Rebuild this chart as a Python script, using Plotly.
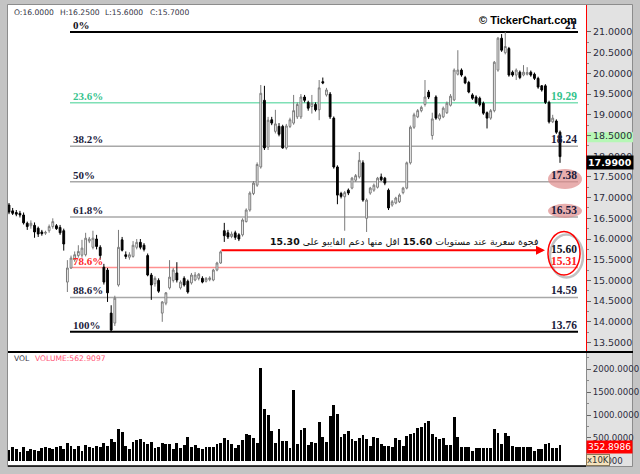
import plotly.graph_objects as go

# ---------------- data ----------------
opens = [16.82, 16.68, 16.64, 16.62, 16.58, 16.38, 16.32, 16.33, 16.26, 16.17,
         16.14, 16.20, 16.30, 16.32, 16.28, 16.20, 14.96, 15.30, 15.50, 15.60,
         15.61, 15.62, 15.95, 15.80, 16.00, 15.80, 15.32, 15.25, 14.21, 13.97,
         14.89, 15.98, 15.62, 15.56, 15.58, 15.80, 15.92, 15.85, 15.60, 15.13,
         14.92, 15.00, 14.21, 14.45, 14.82, 15.00, 15.18, 14.82, 15.05, 14.98,
         14.94, 15.01, 15.05, 15.05, 14.98, 15.02, 15.01, 15.25, 15.42, 16.20,
         16.15, 16.06, 16.15, 16.10, 16.10, 16.42, 16.70, 17.10, 17.30, 17.74,
         19.35, 18.22, 18.88, 18.60, 18.72, 18.72, 18.20, 18.72, 18.80, 18.95,
         18.95, 19.43, 19.30, 19.20, 19.25, 19.12, 19.80, 19.48, 19.50, 18.92,
         17.74, 17.10, 17.02, 17.18, 17.23, 17.42, 17.50, 17.84, 16.50, 17.11,
         17.18, 17.25, 17.50, 17.47, 17.18, 16.82, 16.87, 16.90, 17.12, 17.23,
         17.84, 18.70, 18.95, 19.10, 19.25, 19.55, 18.50, 19.43, 18.90, 18.95,
         19.05, 19.23, 19.36, 19.98, 20.08, 19.90, 19.78, 19.48, 19.43, 19.40,
         19.28, 19.05, 18.92, 19.10, 20.08, 20.85, 20.50, 20.60, 20.03, 19.96,
         20.03, 19.96, 19.98, 20.03, 19.98, 19.88, 19.70, 19.70, 19.30, 18.83,
         18.85, 18.58]
highs = [16.87, 16.75, 16.70, 16.68, 16.64, 16.42, 16.45, 16.40, 16.30, 16.22,
         16.20, 16.35, 16.50, 16.36, 16.34, 16.25, 15.49, 15.60, 15.70, 15.85,
         15.98, 16.15, 16.05, 16.20, 16.10, 15.85, 15.40, 15.30, 14.40, 14.63,
         16.22, 16.05, 15.70, 15.68, 15.95, 16.00, 16.00, 15.90, 15.65, 15.18,
         15.10, 15.05, 14.50, 14.72, 15.49, 15.30, 15.44, 15.00, 15.10, 15.02,
         15.18, 15.20, 15.18, 15.10, 15.08, 15.10, 15.28, 15.45, 15.72, 16.39,
         16.22, 16.18, 16.20, 16.14, 16.50, 16.74, 17.15, 17.40, 17.85, 19.72,
         19.70, 18.95, 18.95, 19.12, 18.80, 18.76, 18.78, 18.93, 19.48, 19.30,
         19.50, 19.48, 19.34, 19.48, 19.30, 19.84, 19.90, 19.65, 19.55, 18.96,
         17.78, 17.14, 17.16, 17.22, 17.50, 17.57, 18.10, 17.90, 16.98, 17.26,
         17.34, 17.50, 17.58, 17.50, 17.22, 16.94, 17.02, 17.10, 17.26, 17.87,
         18.74, 19.05, 19.14, 19.22, 19.84, 19.60, 19.05, 19.47, 19.04, 19.20,
         19.32, 19.50, 20.12, 20.56, 20.12, 19.94, 19.82, 19.52, 19.47, 19.44,
         19.32, 19.08, 19.14, 20.30, 20.88, 20.95, 21.00, 20.64, 20.07, 20.12,
         20.07, 20.20, 20.15, 20.07, 20.02, 19.92, 19.72, 19.74, 19.34, 19.00,
         18.89, 18.62]
lows = [16.60, 16.58, 16.55, 16.52, 16.35, 16.22, 16.25, 16.03, 16.05, 16.08,
        16.10, 16.15, 16.25, 16.22, 16.10, 15.72, 14.72, 15.28, 15.45, 15.55,
        15.55, 15.58, 15.90, 15.75, 15.75, 15.50, 14.90, 14.48, 13.76, 13.90,
        14.85, 15.70, 15.52, 15.50, 15.55, 15.75, 15.75, 15.70, 15.10, 14.53,
        14.85, 14.70, 14.00, 14.40, 14.78, 14.95, 14.95, 14.78, 14.85, 14.68,
        14.90, 14.98, 15.00, 14.93, 14.95, 14.98, 14.98, 15.22, 15.40, 15.93,
        16.00, 16.02, 15.98, 15.95, 16.06, 16.40, 16.66, 17.06, 17.26, 17.70,
        18.15, 18.15, 18.75, 18.55, 18.48, 18.18, 18.16, 18.68, 18.76, 18.90,
        18.90, 19.30, 19.10, 19.03, 19.08, 18.87, 19.74, 19.44, 18.90, 17.70,
        16.84, 16.98, 16.20, 17.06, 17.20, 17.38, 17.46, 16.90, 16.17, 17.07,
        17.14, 17.22, 17.40, 17.30, 16.70, 16.78, 16.84, 16.87, 17.08, 17.20,
        17.80, 18.66, 18.92, 19.06, 19.20, 19.38, 18.40, 18.88, 18.86, 18.92,
        19.02, 19.20, 19.33, 19.95, 19.92, 19.74, 19.52, 19.36, 19.26, 19.20,
        19.00, 18.67, 18.88, 19.06, 20.04, 20.52, 20.46, 19.92, 19.92, 19.84,
        19.86, 19.93, 19.95, 19.92, 19.84, 19.63, 19.56, 19.26, 18.79, 18.80,
        18.54, 17.84]
closes = [16.65, 16.62, 16.60, 16.58, 16.39, 16.30, 16.38, 16.17, 16.12, 16.13,
          16.16, 16.30, 16.42, 16.25, 16.15, 15.88, 15.30, 15.54, 15.62, 15.70,
          15.78, 16.02, 16.00, 16.02, 15.82, 15.60, 14.96, 14.70, 13.80, 14.57,
          15.80, 15.73, 15.58, 15.62, 15.85, 15.92, 15.80, 15.75, 15.13, 14.89,
          15.05, 14.74, 14.48, 14.70, 15.08, 15.25, 15.01, 14.96, 14.89, 14.72,
          15.13, 15.13, 15.15, 14.96, 15.05, 15.06, 15.25, 15.42, 15.69, 16.08,
          16.05, 16.12, 16.04, 16.00, 16.46, 16.70, 17.11, 17.35, 17.80, 19.52,
          18.20, 18.87, 18.80, 18.78, 18.53, 18.20, 18.73, 18.88, 19.10, 19.25,
          19.43, 19.35, 19.16, 19.28, 19.12, 19.65, 19.77, 19.60, 18.95, 17.74,
          17.06, 17.03, 17.12, 17.11, 17.47, 17.53, 17.90, 16.94, 16.94, 17.23,
          17.30, 17.47, 17.43, 17.35, 16.75, 16.90, 16.99, 17.06, 17.23, 17.84,
          18.70, 19.00, 19.10, 19.18, 19.43, 19.43, 18.90, 18.92, 19.00, 19.16,
          19.28, 19.45, 20.08, 20.08, 19.96, 19.77, 19.55, 19.40, 19.30, 19.24,
          19.04, 18.92, 19.10, 20.27, 20.85, 20.56, 20.65, 19.96, 19.96, 20.08,
          19.90, 20.03, 20.02, 19.96, 19.88, 19.67, 19.60, 19.30, 18.83, 18.92,
          18.58, 17.99]
volumes = [235, 293, 250, 198, 293, 213, 250, 235, 220, 286,
           308, 271, 257, 308, 323, 257, 381, 323, 250, 330,
           213, 345, 308, 286, 323, 308, 381, 323, 476, 403,
           689, 638, 323, 250, 418, 454, 476, 403, 359, 403,
           271, 293, 381, 367, 367, 250, 396, 271, 345, 528,
           308, 345, 271, 250, 293, 308, 308, 359, 381, 491,
           454, 359, 271, 345, 454, 579, 564, 506, 381, 2030,
           1136, 997, 660, 396, 689, 440, 440, 286, 1554, 367,
           674, 726, 345, 418, 381,
           858, 528, 403, 982, 1209, 1026, 528, 579, 660, 469,
           440, 491, 564, 476, 323, 513, 491, 359, 323, 323,
           300, 491, 454, 330, 550, 579, 616, 726, 748, 821,
           872, 586, 528, 469, 491, 345, 345, 946, 528, 293,
           293, 293, 220, 286, 286, 286, 286, 286, 689, 616,
           359, 616, 542, 323, 308, 293, 293, 293, 293, 220,
           249, 249, 367, 381, 271, 271, 352.8986]

fib_pct_labels = ["0%", "23.6%", "38.2%", "50%", "61.8%", "78.6%", "88.6%", "100%"]
fib_levels = [21.00, 19.29, 18.24, 17.38, 16.53, 15.31, 14.59, 13.76]
fib_value_labels = ["21", "19.29", "18.24", "17.38", "16.53", "15.31", "14.59", "13.76"]
gap_level = 15.60
last_close = 17.99
last_volume = 352.8986
header_items = ["O:16.0000", "H:16.2500", "L:15.6000", "C:15.7000"]
vol_header = "VOLUME:562.9097"
price_ticks = [13.5, 14.0, 14.5, 15.0, 15.5, 16.0, 16.5, 17.0, 17.5, 18.0, 18.5, 19.0, 19.5, 20.0, 20.5, 21.0]
volume_ticks = [0, 500, 1000, 1500, 2000]
note_text = "فجوة سعرية عند مستويات 15.60 اقل منها دعم الفايبو على 15.30"
note_numbers = ["15.60", "15.30"]

# ---------------- layout helpers (pixel -> paper) ----------------
W, H = 640, 474
ML, MR, MT, MB = 8, 54, 5, 8
PW = W - ML - MR
PH = H - MT - MB


def px(x):
    return (x - ML) / PW


def py(y):
    return (H - MB - y) / PH


N = len(closes)
x_idx = list(range(N))
first_px, last_px = 9.0, 560.0
step = (last_px - first_px) / (N - 1)
x_range = [(ML - first_px) / step, (ML + PW - first_px) / step]

vol_dom_top = py(352)
price_range = [13.271, 21.652]
volume_range = [-116, 2379]

fig = go.Figure()
fig.add_trace(go.Candlestick(
    x=x_idx, open=opens, high=highs, low=lows, close=closes,
    increasing=dict(line=dict(color="#7a7a7a", width=1), fillcolor="#ffffff"),
    decreasing=dict(line=dict(color="#000000", width=1), fillcolor="#000000"),
    whiskerwidth=0, hoverinfo="skip", showlegend=False,
    xaxis="x", yaxis="y"))
fig.add_trace(go.Bar(
    x=x_idx, y=volumes, width=0.78, marker=dict(color="#000000", line=dict(width=0)),
    hoverinfo="skip", showlegend=False, xaxis="x2", yaxis="y2"))

tick_font = dict(family="DejaVu Sans", size=9.5, color="#2c2c3c")
vol_tick_font = dict(family="DejaVu Sans", size=8.6, color="#2c2c3c")
fig.update_layout(
    width=W, height=H, margin=dict(l=ML, r=MR, t=MT, b=MB, autoexpand=False),
    paper_bgcolor="#c4c4c4", plot_bgcolor="#ffffff",
    showlegend=False, bargap=0,
    xaxis=dict(domain=[0, 1], range=x_range, visible=False, rangeslider=dict(visible=False),
               anchor="y", automargin=False),
    xaxis2=dict(domain=[0, 1], range=x_range, visible=False, anchor="y2", matches="x",
                automargin=False),
    yaxis=dict(domain=[vol_dom_top, 1], range=price_range, side="right", anchor="x",
               automargin=False,
               tickvals=price_ticks, tickformat=".4f", ticks="outside", ticklen=4,
               tickcolor="#666666", tickfont=tick_font, showgrid=False, zeroline=False,
               showline=True, linecolor="#ff0000", linewidth=1,
               minor=dict(tickvals=[v + 0.25 for v in price_ticks[:-1]], ticks="outside",
                          ticklen=2, tickcolor="#888888")),
    yaxis2=dict(domain=[0, vol_dom_top], range=volume_range, side="right", anchor="x2",
                automargin=False,
                tickvals=volume_ticks, tickformat=".4f", ticks="outside", ticklen=4,
                tickcolor="#666666", tickfont=vol_tick_font, showgrid=False, zeroline=False,
                showline=True, linecolor="#8a8a8a", linewidth=1,
                minor=dict(tickvals=[250, 750, 1250, 1750, 2250], ticks="outside",
                           ticklen=2, tickcolor="#888888")),
)

shapes = []
# right axis gray area
shapes.append(dict(type="rect", xref="paper", yref="paper", x0=1.0, x1=px(632),
                   y0=py(466), y1=py(5), fillcolor="#e2e2e2", line=dict(width=0), layer="below"))
# frame inner border
shapes.append(dict(type="rect", xref="paper", yref="paper", x0=px(7.5), x1=px(632.5),
                   y0=py(466.5), y1=py(4.5), line=dict(color="#8c8c8c", width=1), layer="below"))
# green marker on axis
shapes.append(dict(type="rect", xref="paper", yref="y", x0=1.0, x1=px(633),
                   y0=18.34, y1=18.58, fillcolor="#b6f7b6", line=dict(width=0), layer="below"))
# panel separator and bottom line
shapes.append(dict(type="line", xref="paper", yref="paper", x0=0, x1=px(633),
                   y0=py(352), y1=py(352), line=dict(color="#000000", width=2)))
shapes.append(dict(type="line", xref="paper", yref="paper", x0=0, x1=1.0,
                   y0=py(466), y1=py(466), line=dict(color="#000000", width=1.5)))

# fibonacci lines
fib_line_colors = ["#000000", "#7fe0b6", "#a8a8a8", "#a8a8a8", "#a8a8a8", "#ff9090", "#a8a8a8", "#000000"]
fib_line_widths = [2, 1.5, 1.5, 1.5, 1.5, 1.5, 1.5, 2]
for lvl, col, lw in zip(fib_levels, fib_line_colors, fib_line_widths):
    shapes.append(dict(type="line", xref="paper", yref="y", x0=px(70), x1=px(578),
                       y0=lvl, y1=lvl, line=dict(color=col, width=lw), layer="below"))

# highlight ellipses
shapes.append(dict(type="circle", xref="paper", yref="y", x0=px(548), x1=px(582),
                   y0=17.21, y1=17.69, fillcolor="rgba(222,140,140,0.7)", line=dict(width=0), layer="below"))
shapes.append(dict(type="circle", xref="paper", yref="y", x0=px(548), x1=px(582),
                   y0=16.51, y1=16.85, fillcolor="rgba(222,140,140,0.7)", line=dict(width=0), layer="below"))
shapes.append(dict(type="circle", xref="paper", yref="y", x0=px(550), x1=px(583),
                   y0=15.07, y1=16.11, fillcolor="rgba(0,0,0,0)",
                   line=dict(color="rgba(120,120,120,0.45)", width=2.5), layer="below"))
shapes.append(dict(type="circle", xref="paper", yref="y", x0=px(548), x1=px(580),
                   y0=15.13, y1=16.18, fillcolor="rgba(0,0,0,0)",
                   line=dict(color="#ff0000", width=1.5), layer="below"))
fig.update_layout(shapes=shapes)

ann = []
serif = "Liberation Serif"
fib_pct_colors = ["#111122", "#35c38d", "#1c1c3c", "#1c1c3c", "#1c1c3c", "#ff2a2a", "#1c1c3c", "#1c1c3c"]
fib_val_colors = ["#111122", "#35c38d", "#1c1c3c", "#1c1c3c", "#1c1c3c", "#ff2020", "#1c1c3c", "#1c1c3c"]
for lbl, lvl, col in zip(fib_pct_labels, fib_levels, fib_pct_colors):
    ann.append(dict(text="<b>%s</b>" % lbl, xref="paper", yref="y", x=px(71), y=lvl,
                    xanchor="left", yanchor="bottom", showarrow=False, yshift=-1,
                    font=dict(family=serif, size=11, color=col)))
for lbl, lvl, col in zip(fib_value_labels, fib_levels, fib_val_colors):
    ann.append(dict(text="<b>%s</b>" % lbl, xref="paper", yref="y", x=px(579), y=lvl,
                    xanchor="right", yanchor="bottom", showarrow=False, yshift=-1,
                    font=dict(family=serif, size=11.5, color=col)))
ann.append(dict(text="<b>%.2f</b>" % gap_level, xref="paper", yref="y", x=px(579), y=15.77,
                xanchor="right", yanchor="middle", showarrow=False,
                font=dict(family=serif, size=11.5, color="#111122")))
# arrow
ann.append(dict(text="", xref="paper", yref="y", x=px(545), y=15.73, ax=-(545 - 220), ay=0,
                showarrow=True, arrowhead=2, arrowsize=0.9, arrowwidth=2, arrowcolor="#ff0000"))
# note (numbers shown in bold)
note_html = note_text
for num in note_numbers:
    note_html = note_html.replace(num, "<b>%s</b>" % num)
ann.append(dict(text="\u202b" + note_html + "\u202c", xref="paper", yref="y", x=px(540), y=15.93,
                xanchor="right", yanchor="middle", showarrow=False,
                font=dict(family="DejaVu Sans", size=9.4, color="#111111")))
# header
hx = [12, 58, 103, 148]
for t, x in zip(header_items, hx):
    ann.append(dict(text=t, xref="paper", yref="paper", x=px(x), y=py(12.5), xanchor="left",
                    yanchor="middle", showarrow=False,
                    font=dict(family="DejaVu Sans", size=7.6, color="#333344")))
ann.append(dict(text="VOL", xref="paper", yref="paper", x=px(12), y=py(358.5), xanchor="left",
                yanchor="middle", showarrow=False, font=dict(family="DejaVu Sans", size=7.6, color="#333344")))
ann.append(dict(text=vol_header, xref="paper", yref="paper", x=px(32.5), y=py(358.5), xanchor="left",
                yanchor="middle", showarrow=False, font=dict(family="DejaVu Sans", size=7.6, color="#ff5577")))
# logo
ann.append(dict(text="<b>© TickerChart.com</b>", xref="paper", yref="paper", x=px(579), y=py(20),
                xanchor="right", yanchor="middle", showarrow=False,
                font=dict(family="Liberation Sans", size=11, color="#000000")))
# last price box
ann.append(dict(text="<b>%.4f</b>" % last_close, xref="paper", yref="y", x=px(586), y=17.86,
                xanchor="left", yanchor="middle", showarrow=False, bgcolor="#000000", borderpad=1,
                font=dict(family="DejaVu Sans", size=9.5, color="#ffffff")))
# last volume box
ann.append(dict(text="%.4f" % last_volume, xref="paper", yref="y2", x=px(586), y=300,
                xanchor="left", yanchor="middle", showarrow=False, bgcolor="#ff0000", borderpad=1,
                font=dict(family="DejaVu Sans", size=9, color="#ffffff")))
ann.append(dict(text="x10K", xref="paper", yref="paper", x=px(586), y=py(459.5),
                xanchor="left", yanchor="middle", showarrow=False, bgcolor="#f6e3bd",
                bordercolor="#8a7a5a", borderwidth=1, borderpad=0,
                font=dict(family="DejaVu Sans", size=8.5, color="#333333")))
fig.update_layout(annotations=ann)

fig.write_html("out.html", config={"displayModeBar": False, "staticPlot": True})

# remove the browser's default page margin so the figure sits at (0, 0)
with open("out.html", "r", encoding="utf-8") as f:
    html = f.read()
html = html.replace("<head>", "<head><style>html,body{margin:0;padding:0;overflow:hidden;}</style>", 1)
with open("out.html", "w", encoding="utf-8") as f:
    f.write(html)
